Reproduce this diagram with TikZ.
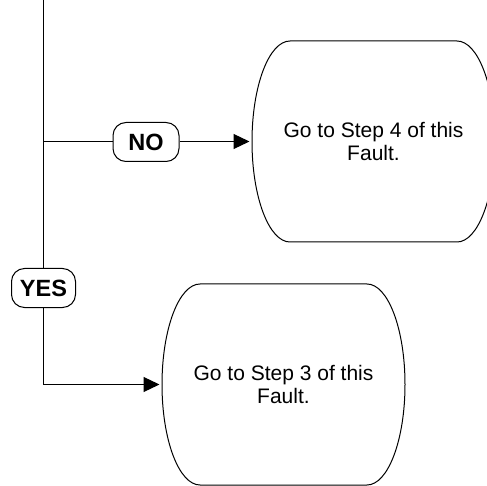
\documentclass[tikz,border=0pt]{standalone}
\usepackage{fontspec}
\setmainfont{Liberation Sans}
\usetikzlibrary{arrows.meta,calc}
\begin{document}
\begin{tikzpicture}[x=1pt,y=-1pt,
  conn/.style={line width=1.2pt},
  arr/.style={conn,-{Triangle[length=16pt,width=15pt]},shorten >=2.5pt},
  lbl/.style={draw,line width=1pt,rounded corners=13pt,minimum height=39pt,inner sep=0pt,fill=white,font=\fontsize{23.5}{26}\selectfont\bfseries},
  stepbox/.style={minimum width=243pt,minimum height=201pt,outer sep=0pt,inner sep=0pt,align=center,font=\fontsize{21}{23}\selectfont},
  barrel/.style={line width=1pt}
]
\useasboundingbox (0,0) rectangle (487,486);
% step boxes (text)
\node[stepbox] (b1) at (373.5,141.5) {Go to Step 4 of this\\Fault.};
\node[stepbox] (b2) at (283.5,384.5) {Go to Step 3 of this\\Fault.};
% barrel outlines
\foreach \b in {b1,b2}{
  \draw[barrel] ([xshift=38pt]\b.north west) -- ([xshift=-38pt]\b.north east)
    arc[start angle=90,end angle=-90,x radius=38pt,y radius=100.5pt]
    -- ([xshift=38pt]\b.south west)
    arc[start angle=270,end angle=90,x radius=38pt,y radius=100.5pt] -- cycle;
}
% labels
\node[lbl,minimum width=66pt] (no) at (146,142) {NO};
\node[lbl,minimum width=64pt] (yes) at (43.5,288) {YES};
% coordinates
\coordinate (top) at (43.5,0);
\coordinate (jn) at (43.5,141.5);
\coordinate (corner) at (43.5,384.5);
% connectors
\draw[conn] (top) -- (yes.north);
\draw[conn] (jn) -- (no.west |- jn);
\draw[arr] (no.east |- jn) -- (b1.west);
\draw[arr] (yes.south) -- (corner) -- (b2.west);
\end{tikzpicture}
\end{document}
